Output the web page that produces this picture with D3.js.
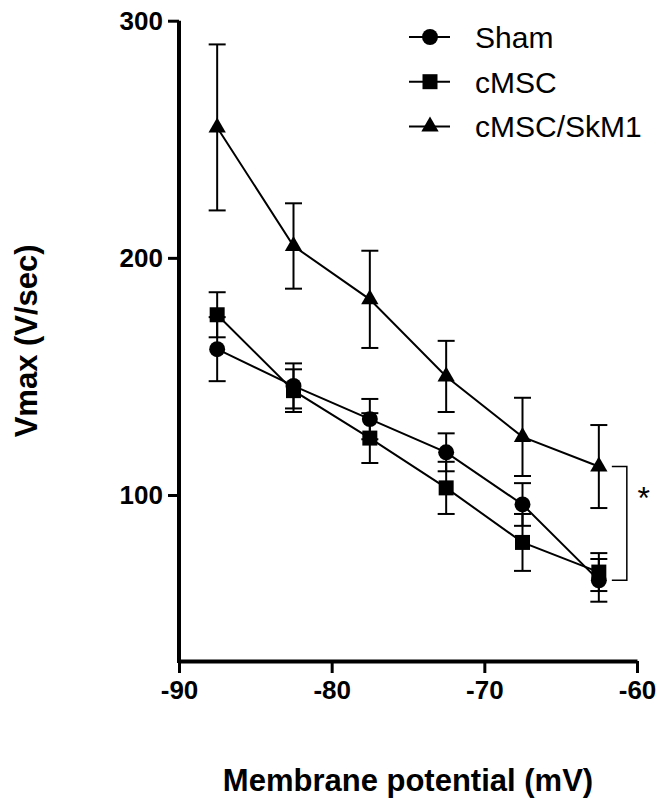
<!DOCTYPE html>
<html>
<head>
<meta charset="utf-8">
<script src="https://cdn.jsdelivr.net/npm/d3@7"></script>
<style>
  body { margin: 0; background: #fff; }
  text { font-family: "Liberation Sans", Arial, sans-serif; fill: #000; }
</style>
</head>
<body>
<div id="chart"></div>
<script>
var potentials = [-87.5, -82.5, -77.5, -72.5, -67.5, -62.5];
var seriesNames = ["Sham", "cMSC", "cMSC/SkM1"];
var shamMean = [161.5, 146, 132, 118, 96, 64];
var shamErr = [13.5, 9.5, 8.5, 8, 9, 9];
var cmscMean = [176, 144, 124, 103, 80, 67.5];
var cmscErr = [9.5, 9, 10.5, 11, 12, 8];
var skm1Mean = [255, 205, 182.5, 150, 124.5, 112];
var skm1Err = [35, 18, 20.5, 15, 16.5, 17.5];
var xTicks = [-90, -80, -70, -60];
var yTicks = [100, 200, 300];

var chart = {
  width: 659,
  height: 800,
  top: 20.7,
  right: 22,
  bottom: 139,
  left: 179,
}

var svg = d3.select("#chart")
  .append("svg")
  .attr("width", chart.width)
  .attr("height", chart.height);

var x = d3.scaleLinear()
  .domain([-90, -60])
  .range([chart.left, chart.width - chart.right]);

var y = d3.scaleLinear()
  .domain([30, 300])
  .range([chart.height - chart.bottom, chart.top]);

var series = [
  { name: seriesNames[0], mean: shamMean, err: shamErr, symbol: d3.symbolCircle, size: 200 },
  { name: seriesNames[1], mean: cmscMean, err: cmscErr, symbol: d3.symbolSquare, size: 225 },
  { name: seriesNames[2], mean: skm1Mean, err: skm1Err, symbol: d3.symbolTriangle, size: 130 },
];

/* axes */
var yAxis = svg.append("g")
  .attr("transform", "translate(" + chart.left + ",0)")
  .call(d3.axisLeft(y).tickValues(yTicks).tickSize(11).tickPadding(5).tickSizeOuter(0));

var xAxis = svg.append("g")
  .attr("transform", "translate(0," + y(30) + ")")
  .call(d3.axisBottom(x).tickValues(xTicks).tickSize(12).tickPadding(8).tickSizeOuter(0)
    .tickFormat(d3.format("d")));

[xAxis, yAxis].forEach((a) => {
  a.select(".domain").attr("stroke", "#000").attr("stroke-width", 4);
  a.selectAll(".tick line").attr("stroke", "#000").attr("stroke-width", 3);
  a.selectAll(".tick text")
    .style("font-family", "'Liberation Sans', Arial, sans-serif")
    .style("font-weight", "bold")
    .style("font-size", "26px")
    .attr("fill", "#000");
});
// minus sign as plain hyphen
xAxis.selectAll(".tick text").text((d) => String(d));
yAxis.select(".domain").attr("d", "M0," + y(300) + "V" + (y(30) + 2));

/* axis titles */
svg.append("text")
  .attr("x", (x(-90) + x(-60)) / 2)
  .attr("y", 791)
  .attr("text-anchor", "middle")
  .style("font-weight", "bold")
  .style("font-size", "31px")
  .text("Membrane potential (mV)");

svg.append("text")
  .attr("transform", "translate(37," + (y(30) + y(300)) / 2 + ") rotate(-90)")
  .attr("text-anchor", "middle")
  .style("font-weight", "bold")
  .style("font-size", "31px")
  .text("Vmax (V/sec)");

/* data */
var line = d3.line()
  .x((d, i) => x(potentials[i]))
  .y((d) => y(d));

var capHalf = 8.5;

series.forEach((s) => {
  var g = svg.append("g");

  g.append("path")
    .attr("d", line(s.mean))
    .attr("fill", "none")
    .attr("stroke", "#000")
    .attr("stroke-width", 2);

  var bars = g.selectAll(".err")
    .data(s.mean)
    .enter()
    .append("g");

  bars.append("line")
    .attr("x1", (d, i) => x(potentials[i]))
    .attr("x2", (d, i) => x(potentials[i]))
    .attr("y1", (d, i) => y(d + s.err[i]))
    .attr("y2", (d, i) => y(d - s.err[i]));

  bars.append("line")
    .attr("x1", (d, i) => x(potentials[i]) - capHalf)
    .attr("x2", (d, i) => x(potentials[i]) + capHalf)
    .attr("y1", (d, i) => y(d + s.err[i]))
    .attr("y2", (d, i) => y(d + s.err[i]));

  bars.append("line")
    .attr("x1", (d, i) => x(potentials[i]) - capHalf)
    .attr("x2", (d, i) => x(potentials[i]) + capHalf)
    .attr("y1", (d, i) => y(d - s.err[i]))
    .attr("y2", (d, i) => y(d - s.err[i]));

  bars.selectAll("line")
    .attr("stroke", "#000")
    .attr("stroke-width", 2);

  g.selectAll(".pt")
    .data(s.mean)
    .enter()
    .append("path")
    .attr("transform", (d, i) => "translate(" + x(potentials[i]) + "," + y(d) + ")")
    .attr("d", d3.symbol().type(s.symbol).size(s.size))
    .attr("fill", "#000");
});

/* significance bracket */
var last = potentials.length - 1;
var bx = x(potentials[last]);
var bTop = y(skm1Mean[last]);
var bBot = y(shamMean[last]);
svg.append("path")
  .attr("d", "M" + (bx + 13) + "," + bTop + "H" + (bx + 28) + "V" + bBot + "H" + (bx + 13))
  .attr("fill", "none")
  .attr("stroke", "#000")
  .attr("stroke-width", 1.5);

svg.append("text")
  .attr("x", bx + 45)
  .attr("y", (bTop + bBot) / 2 - 14)
  .attr("text-anchor", "middle")
  .style("font-size", "32px")
  .text("*");

/* legend */
var legend = svg.append("g")
  .selectAll("g")
  .data(series)
  .enter()
  .append("g")
  .attr("transform", (d, i) => "translate(430," + (37 + i * 44.7) + ")");

legend.append("line")
  .attr("x1", -21)
  .attr("x2", 20)
  .attr("stroke", "#000")
  .attr("stroke-width", 2);

legend.append("path")
  .attr("d", (d) => d3.symbol().type(d.symbol).size(d.size)())
  .attr("fill", "#000");

legend.append("text")
  .attr("x", 45)
  .attr("dy", "0.36em")
  .style("font-size", "30px")
  .text((d) => d.name);
</script>
</body>
</html>
